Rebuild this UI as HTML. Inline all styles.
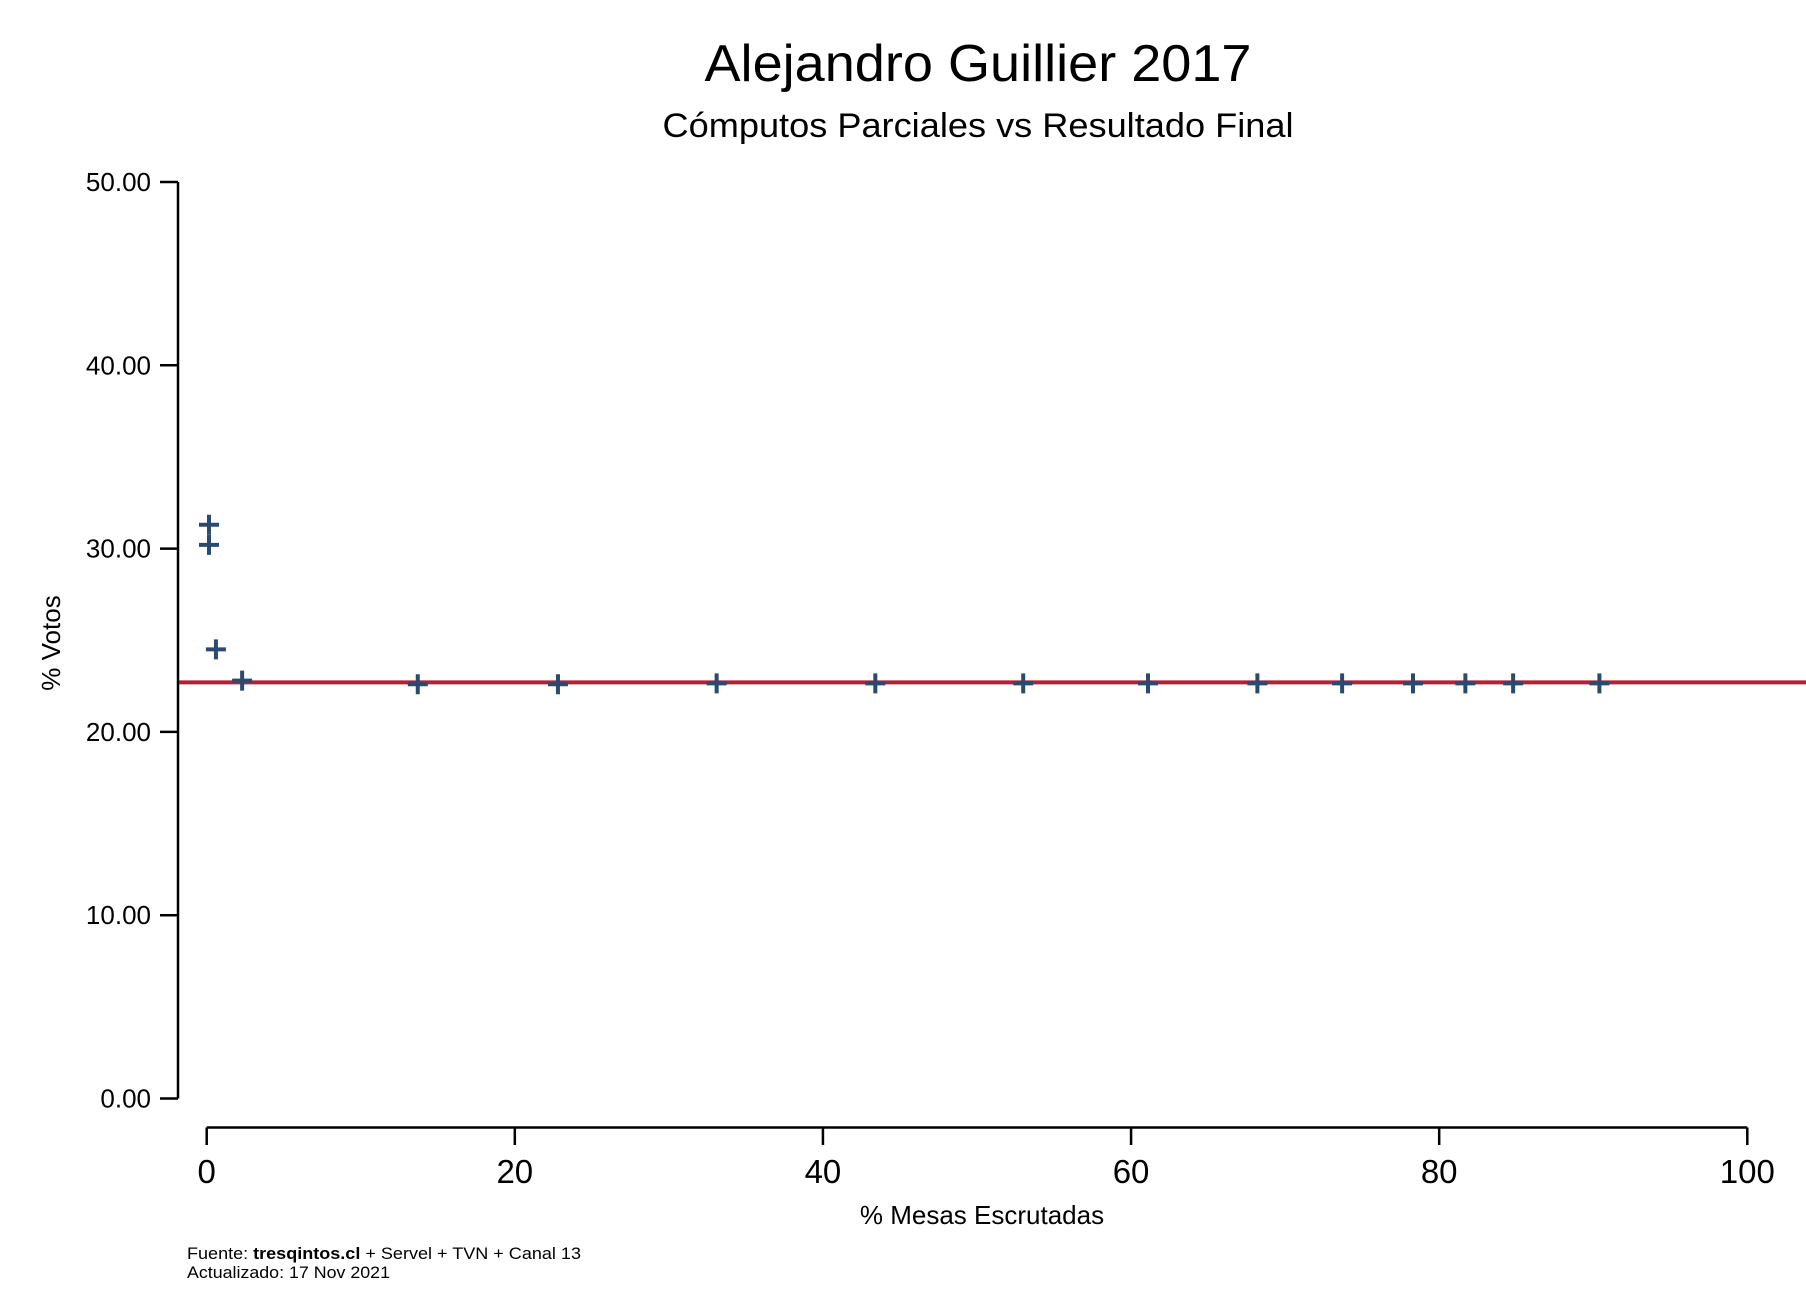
<!DOCTYPE html>
<html><head><meta charset="utf-8"><style>
html,body{margin:0;padding:0;background:#fff;}
svg{display:block;font-family:"Liberation Sans",Arial,sans-serif;}
</style></head><body>
<svg id="chart" width="1806" height="1314" viewBox="0 0 1806 1314" xmlns="http://www.w3.org/2000/svg">
<rect width="1806" height="1314" fill="#fff"/>
<text x="978" y="81" font-size="52" text-anchor="middle" textLength="547" lengthAdjust="spacingAndGlyphs">Alejandro Guillier 2017</text>
<text x="978" y="137" font-size="34" text-anchor="middle" textLength="631" lengthAdjust="spacingAndGlyphs">Cómputos Parciales vs Resultado Final</text>
<text transform="translate(60,643) rotate(-90)" font-size="26" text-anchor="middle">% Votos</text>
<text x="982" y="1224" font-size="26" text-anchor="middle">% Mesas Escrutadas</text>
<text x="187" y="1259" font-size="17" textLength="394" lengthAdjust="spacingAndGlyphs">Fuente: <tspan font-weight="bold">tresqintos.cl</tspan> + Servel + TVN + Canal 13</text>
<text x="187" y="1278" font-size="17" textLength="203" lengthAdjust="spacingAndGlyphs">Actualizado: 17 Nov 2021</text>
<g id="axes"></g>
<g id="marks"></g>
</svg>
<script>
const xTicks = [0, 20, 40, 60, 80, 100];
const yTicks = [0, 10, 20, 30, 40, 50];
const yTickLabels = ["0.00", "10.00", "20.00", "30.00", "40.00", "50.00"];
const mesasPct = [0.15, 0.15, 0.6, 2.3, 13.7, 22.8, 33.1, 43.4, 53.0, 61.1, 68.2, 73.7, 78.3, 81.7, 84.8, 90.4];
const votosPct = [31.3, 30.2, 24.5, 22.8, 22.6, 22.6, 22.65, 22.65, 22.65, 22.65, 22.65, 22.65, 22.65, 22.65, 22.65, 22.65];
const finalResult = [22.7];

const NS = "http://www.w3.org/2000/svg";
function X(v){ return 206.7 + v * 15.406; }
function Y(v){ return 1098.5 - v * 18.33; }
function mk(tag, attrs, parent){ const e = document.createElementNS(NS, tag); for (const k in attrs) e.setAttribute(k, attrs[k]); parent.appendChild(e); return e; }
const axes = document.getElementById('axes');
const marks = document.getElementById('marks');

let yl = mk('line', {x1:178, x2:178, y1:Y(50), y2:Y(0), stroke:'#000', 'stroke-width':2.5}, axes);


yTicks.forEach((t, i) => {
  const tk = mk('line', {x1:160, x2:178, y1:Y(t), y2:Y(t), stroke:'#000', 'stroke-width':2.5}, axes);
  
  
  const lb = mk('text', {x:151, y:Y(t) + 9, 'font-size':26, 'text-anchor':'end'}, axes);
  lb.textContent = yTickLabels[i];
  
  
});
let xl = mk('line', {x1:X(0), x2:X(100), y1:1127.5, y2:1127.5, stroke:'#000', 'stroke-width':2.5}, axes);


xTicks.forEach(t => {
  const tk = mk('line', {x1:X(t), x2:X(t), y1:1127.5, y2:1145, stroke:'#000', 'stroke-width':2.5}, axes);
  
  
  const lb = mk('text', {x:X(t), y:1183, 'font-size':33, 'text-anchor':'middle'}, axes);
  lb.textContent = String(t);
  
  
});
const fl = mk('line', {x1:179, x2:1806, y1:Y(finalResult[0]), y2:Y(finalResult[0]), stroke:'#b22234', 'stroke-width':4}, marks);


mesasPct.forEach((m, i) => {
  const cx = X(m), cy = Y(votosPct[i]);
  const p = mk('path', {d:`M${cx-10},${cy}H${cx+10}M${cx},${cy-10}V${cy+10}`, stroke:'#2b4a6f', 'stroke-width':4, fill:'none'}, marks);
  
  
});
</script>
</body></html>
